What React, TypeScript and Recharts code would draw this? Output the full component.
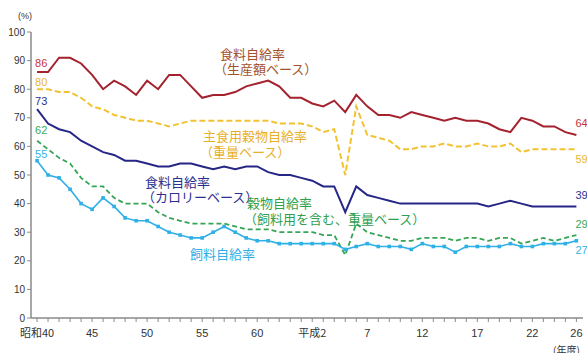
import { LineChart, Line, XAxis, YAxis } from "recharts"

const years = [
  1965, 1966, 1967, 1968, 1969, 1970, 1971, 1972, 1973, 1974,
  1975, 1976, 1977, 1978, 1979, 1980, 1981, 1982, 1983, 1984,
  1985, 1986, 1987, 1988, 1989, 1990, 1991, 1992, 1993, 1994,
  1995, 1996, 1997, 1998, 1999, 2000, 2001, 2002, 2003, 2004,
  2005, 2006, 2007, 2008, 2009, 2010, 2011, 2012, 2013, 2014,
]

// 食料自給率（生産額ベース）
const productionValue = [
  86, 86, 91, 91, 89, 85, 80, 83, 81, 78,
  83, 80, 85, 85, 81, 77, 78, 78, 79, 81,
  82, 83, 81, 77, 77, 75, 74, 76, 72, 78,
  74, 71, 71, 70, 72, 71, 70, 69, 70, 69,
  69, 68, 66, 65, 70, 69, 67, 67, 65, 64,
]

// 主食用穀物自給率（重量ベース）
const stapleGrain = [
  80, 80, 79, 79, 77, 74, 73, 71, 70, 69,
  69, 68, 67, 68, 69, 69, 69, 69, 69, 69,
  69, 69, 68, 68, 68, 67, 65, 66, 50, 74,
  64, 63, 62, 59, 59, 60, 60, 61, 60, 60,
  61, 60, 60, 61, 58, 59, 59, 59, 59, 59,
]

// 食料自給率（カロリーベース）
const calorie = [
  73, 68, 66, 65, 62, 60, 58, 57, 55, 55,
  54, 53, 53, 54, 54, 53, 52, 53, 52, 53,
  53, 51, 50, 50, 49, 48, 46, 46, 37, 46,
  43, 42, 41, 40, 40, 40, 40, 40, 40, 40,
  40, 39, 40, 41, 40, 39, 39, 39, 39, 39,
]

// 穀物自給率（飼料用を含む、重量ベース）
const grain = [
  62, 59, 56, 54, 49, 46, 46, 42, 40, 40,
  40, 37, 35, 34, 33, 33, 33, 33, 32, 31,
  31, 31, 30, 30, 30, 30, 29, 29, 22, 33,
  30, 29, 28, 27, 27, 28, 28, 28, 27, 28,
  28, 27, 28, 28, 26, 27, 28, 27, 28, 29,
]

// 飼料自給率
const feed = [
  55, 50, 49, 45, 40, 38, 42, 39, 35, 34,
  34, 32, 30, 29, 28, 28, 30, 32, 30, 28,
  27, 27, 26, 26, 26, 26, 26, 26, 24, 25,
  26, 25, 25, 25, 24, 26, 25, 25, 23, 25,
  25, 25, 25, 26, 25, 25, 26, 26, 26, 27,
]

const labelYears = [1965, 1970, 1975, 1980, 1985, 1990, 1995, 2000, 2005, 2010, 2014]
const labelTexts = ["昭和40", "45", "50", "55", "60", "平成2", "7", "12", "17", "22", "26"]
const yTicks = [0, 10, 20, 30, 40, 50, 60, 70, 80, 90, 100]

const data = years.map((year, i) => ({
  year,
  productionValue: productionValue[i],
  stapleGrain: stapleGrain[i],
  calorie: calorie[i],
  grain: grain[i],
  feed: feed[i],
}))

const jp = '"Noto Sans CJK JP", "Noto Sans", sans-serif'
const num = '"Liberation Sans", Arial, sans-serif'

const XTick = (props: any) => {
  const { x, y, payload } = props
  const idx = labelYears.indexOf(payload.value)
  if (idx < 0) return <g />
  return (
    <text x={x} y={y} dy={13} textAnchor="middle" fontSize={11} fill="#333" fontFamily={idx === 0 || idx === 5 ? jp : num}>
      {labelTexts[idx]}
    </text>
  )
}

// value at the first and last year, drawn next to the line
const endLabels = (color: string, startDy: number, endDy: number) => (props: any) => {
  const { x, y, index, value } = props
  if (index === 0)
    return <text x={x - 2} y={y + startDy} fill={color} fontSize={11} fontFamily={num}>{value}</text>
  if (index === years.length - 1)
    return <text x={x - 1} y={y + endDy} fill={color} fontSize={11} fontFamily={num}>{value}</text>
  return <g />
}

const FeedDot = (props: any) => {
  const { cx, cy } = props
  return <rect x={cx - 1.8} y={cy - 1.8} width={3.6} height={3.6} fill="#2fb0e6" />
}

const notes = [
  { text: "食料自給率", x: 220, y: 47, color: "#a4522c" },
  { text: "（生産額ベース）", x: 214, y: 62, color: "#a4522c" },
  { text: "主食用穀物自給率", x: 203, y: 129, color: "#e8b028" },
  { text: "（重量ベース）", x: 200, y: 145, color: "#e8b028" },
  { text: "食料自給率", x: 145, y: 175, color: "#2b2f8e" },
  { text: "（カロリーベース）", x: 142, y: 190, color: "#2b2f8e" },
  { text: "穀物自給率", x: 247, y: 196, color: "#2f9f50" },
  { text: "（飼料用を含む、重量ベース）", x: 244, y: 212, color: "#2f9f50" },
  { text: "飼料自給率", x: 190, y: 247, color: "#33aee6" },
]

export default function App() {
  return (
    <div style={{ position: "fixed", left: 0, top: 0, width: 587, height: 353, background: "#fff", overflow: "hidden" }}>
      <LineChart width={587} height={353} data={data} margin={{ top: 32, right: 4, left: 0, bottom: 5 }}>
        <XAxis
          dataKey="year"
          type="number"
          domain={[1964.45, 2014.6]}
          ticks={years}
          interval={0}
          tick={<XTick />}
          tickSize={4}
          height={30}
          axisLine={{ stroke: "#8a8a8a", strokeWidth: 1.5 }}
          tickLine={{ stroke: "#8a8a8a" }}
        />
        <YAxis
          type="number"
          domain={[0, 100]}
          ticks={yTicks}
          interval={0}
          width={31}
          tickSize={4}
          tick={{ fontSize: 10, fill: "#333", fontFamily: num }}
          axisLine={{ stroke: "#8a8a8a", strokeWidth: 1.5 }}
          tickLine={{ stroke: "#8a8a8a" }}
        />
        <Line dataKey="productionValue" stroke="#a3222e" strokeWidth={2} dot={false} isAnimationActive={false}
          label={endLabels("#c8343e", -5, -8)} />
        <Line dataKey="stapleGrain" stroke="#f2c232" strokeWidth={2} strokeDasharray="6 3" dot={false} isAnimationActive={false}
          label={endLabels("#eab631", -3, 14)} />
        <Line dataKey="calorie" stroke="#262686" strokeWidth={2} dot={false} isAnimationActive={false}
          label={endLabels("#2b2f8e", -4, -7)} />
        <Line dataKey="grain" stroke="#35a555" strokeWidth={1.8} strokeDasharray="5 3" dot={false} isAnimationActive={false}
          label={endLabels("#3aa85a", -7, -7)} />
        <Line dataKey="feed" stroke="#2fb0e6" strokeWidth={1.6} dot={<FeedDot />} isAnimationActive={false}
          label={endLabels("#35b2e8", -3, 13)} />
      </LineChart>
      <div style={{ position: "absolute", left: 18, top: 11, fontSize: 9, color: "#333", fontFamily: num }}>(%)</div>
      <div style={{ position: "absolute", left: 553, top: 345, fontSize: 10, color: "#333", fontFamily: jp, lineHeight: 1 }}>(年度)</div>
      {notes.map((n, i) => (
        <div key={i} style={{ position: "absolute", left: n.x, top: n.y, fontSize: 13, lineHeight: "13px", color: n.color, fontFamily: jp, whiteSpace: "nowrap" }}>
          {n.text}
        </div>
      ))}
    </div>
  )
}
